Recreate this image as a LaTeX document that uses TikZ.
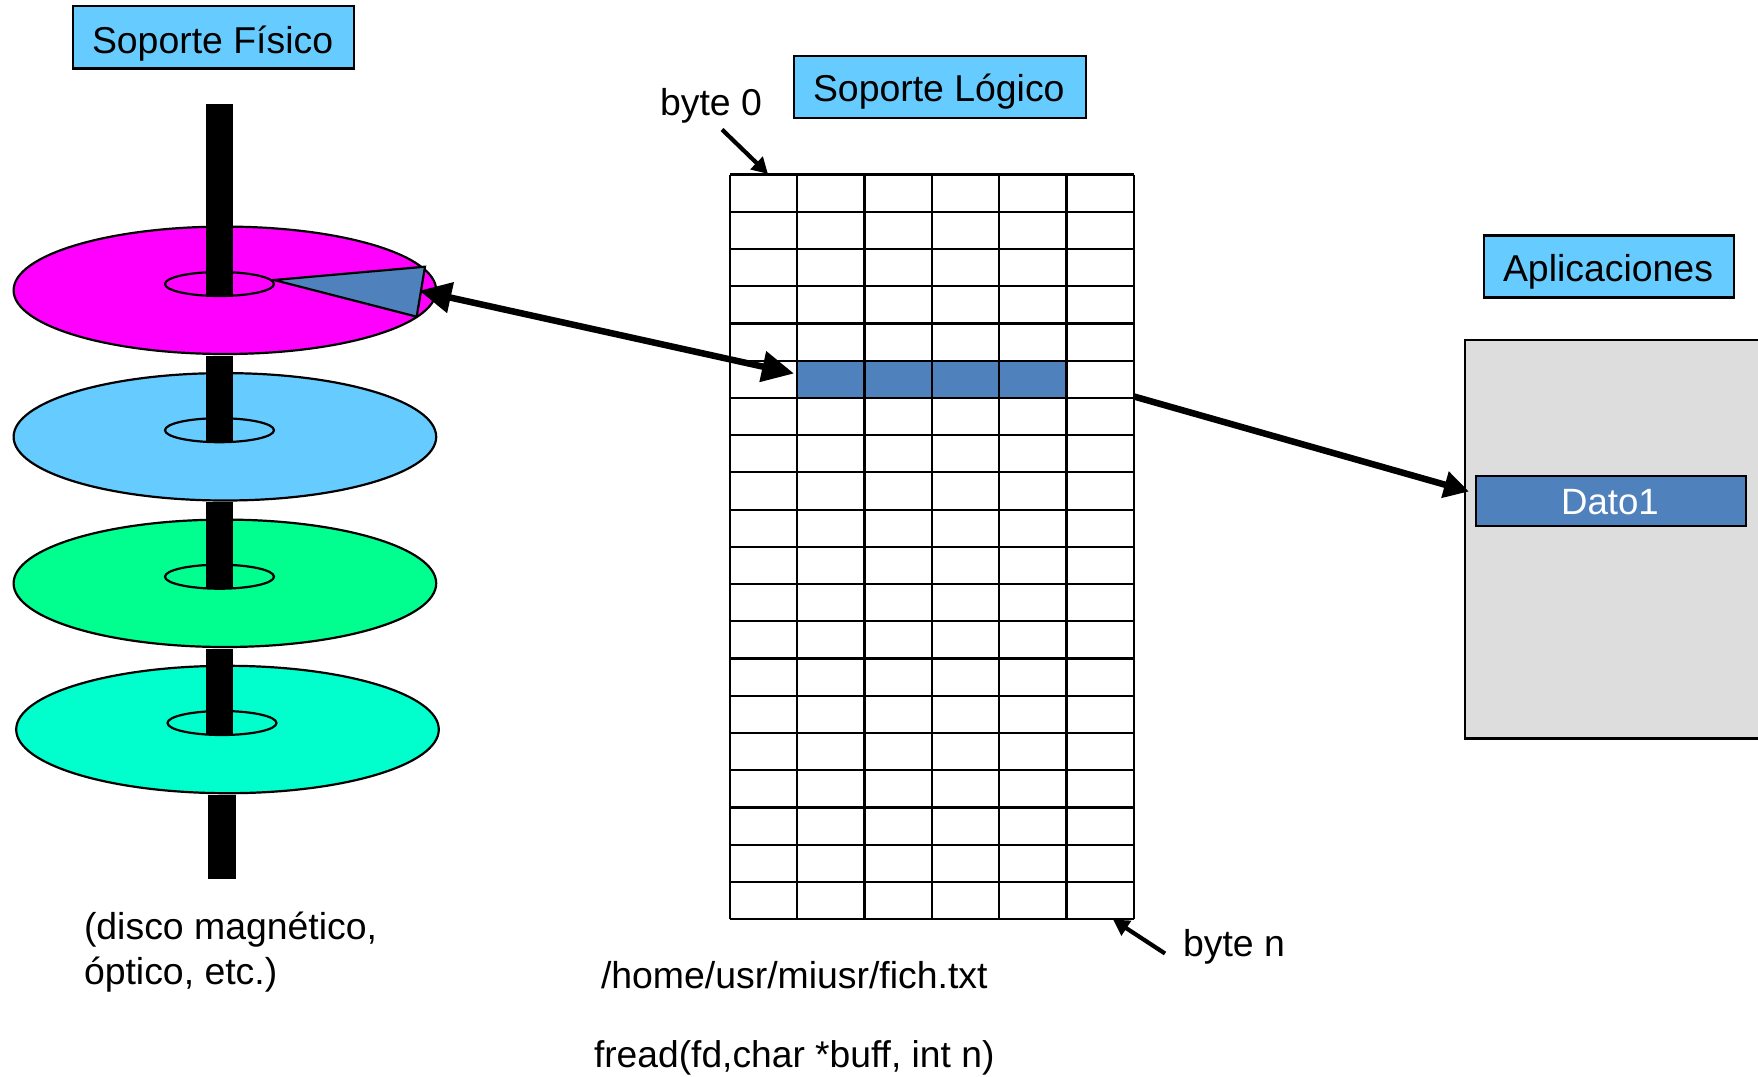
\documentclass[tikz,border=0pt]{standalone}
\usepackage{fontspec}
\setmainfont{Liberation Sans}
\usetikzlibrary{arrows.meta}
\definecolor{boxblue}{HTML}{66CCFF}
\definecolor{datablue}{HTML}{4F81BD}
\definecolor{boxgray}{HTML}{DDDDDD}
\definecolor{diskpink}{HTML}{FF00FF}
\definecolor{diskgreen}{HTML}{00FF8F}
\definecolor{diskteal}{HTML}{00FFCC}
\tikzset{
  thinline/.style={line width=2.2pt,draw=black},
  titlebox/.style={draw=black,line width=2.2pt,fill=boxblue},
  txt/.style={inner sep=0pt,outer sep=0pt,anchor=base west,font=\fontsize{37.4}{45}\selectfont},
  pole/.style={fill=black,draw=none},
  bigarrow/.style={line width=6.5pt,draw=black},
  smallarrow/.style={line width=4.2pt,draw=black,-{Triangle[length=16pt,width=17pt]}},
}
\newcommand{\disk}[6]{% name, cx, cy, fill, hub cx, hub cy
  \fill[#4,thinline,draw=black] (#2,#3) ellipse [x radius=211.3,y radius=63.7];
  \draw[thinline,fill=#4] (#5,#6) ellipse [x radius=54.5,y radius=12];
}
\begin{document}
\begin{tikzpicture}[x=1pt,y=-1pt]
\useasboundingbox (0,0) rectangle (1758,1076);
% disks
\disk{d1}{224.9}{290.3}{diskpink}{219.5}{284}
\disk{d2}{224.9}{436.8}{boxblue}{219.5}{430.2}
\disk{d3}{224.9}{583.3}{diskgreen}{219.5}{576.7}
\disk{d4}{227.5}{729.5}{diskteal}{222}{723}
% spindle
\fill[pole] (206,103.5) rectangle (232.7,296.7);
\fill[pole] (206,356) rectangle (232.7,442);
\fill[pole] (206,502) rectangle (232.7,588);
\fill[pole] (206,649) rectangle (232.7,734.5);
\fill[pole] (208,795) rectangle (235.5,878.5);
% sector
\draw[thinline,fill=datablue] (274,280) -- (425,266.7) -- (416.7,316.7) -- cycle;
% grid
\fill[datablue] (797.3,360.6) rectangle (1066.5,397.8);
\foreach \r in {0,...,20} \draw[thinline] (730,174.5+\r*37.235) -- (1133.7,174.5+\r*37.235);
\foreach \c in {0,...,6} \draw[thinline] (730+\c*67.28,174.5) -- (730+\c*67.28,919.2);
% application box
\draw[thinline,fill=boxgray] (1766,340) -- (1465,340) -- (1465,738.5) -- (1766,738.5);
% labels
\node[titlebox,minimum width=281pt,minimum height=62.8pt,inner sep=0pt] (fisico) at (213.5,37) {};
\node[txt] (tfisico) at (92,53) {Soporte Físico};
\node[titlebox,minimum width=292pt,minimum height=62pt,inner sep=0pt] (logico) at (940,86.8) {};
\node[txt] (tlogico) at (813,101.5) {Soporte Lógico};
\node[titlebox,minimum width=250pt,minimum height=62pt,inner sep=0pt] (apli) at (1609,266.5) {};
\node[txt,anchor=base] (tapli) at (1608,281.5) {Aplicaciones};
\node[draw=black,line width=2.6pt,fill=datablue,minimum width=270pt,minimum height=50pt,inner sep=0pt] (dato) at (1611,501) {};
\node[txt,anchor=base,text=white,font=\fontsize{36.6}{45}\selectfont] (tdato) at (1610,514.5) {Dato1};
\node[txt] (byte0) at (660,115.5) {byte 0};
\node[txt] (byten) at (1183,956) {byte n};
\node[txt] (disco1) at (84,939) {(disco magnético,};
\node[txt] (disco2) at (84,984) {óptico, etc.)};
\node[txt] (ruta) at (601,988) {/home/usr/miusr/fich.txt};
\node[txt,font=\fontsize{37.2}{45}\selectfont] (fread) at (594,1067) {fread(fd,char *buff, int n)};
% connector ends
\coordinate (sectorEnd) at (419.3,290.7);
\coordinate (cellEnd) at (794,373.5);
\coordinate (gridEdge) at (1134,396.5);
\coordinate (datoEnd) at (1469,491.5);
\coordinate (b0a) at (722,129.5);
\coordinate (b0b) at (768,174);
\coordinate (bna) at (1165,953.5);
\coordinate (bnb) at (1113,919.5);
% connectors
\draw[bigarrow,{Triangle[length=32pt,width=30pt]}-{Triangle[length=32pt,width=30pt]}] (sectorEnd) -- (cellEnd);
\draw[bigarrow,-{Triangle[length=25pt,width=26pt]}] (gridEdge) -- (datoEnd);
\draw[smallarrow] (b0a) -- (b0b);
\draw[smallarrow] (bna) -- (bnb);
\end{tikzpicture}
\end{document}
